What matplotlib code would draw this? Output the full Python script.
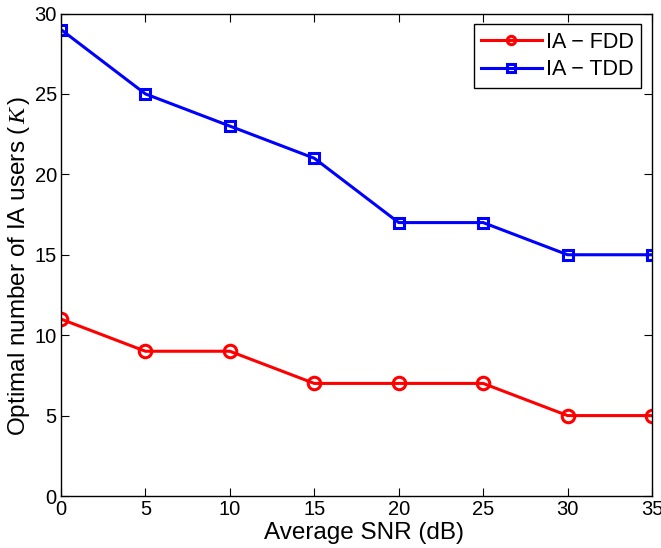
import numpy as np
import matplotlib.pyplot as plt

plt.rcParams['font.family'] = ['Liberation Sans', 'DejaVu Sans']
plt.rcParams['mathtext.fontset'] = 'custom'
plt.rcParams['mathtext.it'] = 'Liberation Serif:italic'

snr = [0, 5, 10, 15, 20, 25, 30, 35]
k_fdd = [11, 9, 9, 7, 7, 7, 5, 5]
k_tdd = [29, 25, 23, 21, 17, 17, 15, 15]

fig = plt.figure(figsize=(6.61, 5.48), dpi=100)
ax = fig.add_axes([61 / 661, 52 / 548, 591 / 661, 482.5 / 548])

ax.plot(snr, k_fdd, '-o', color='red', lw=2.2, ms=9, mfc='none', mew=2.2, label='IA \u2212 FDD')
ax.plot(snr, k_tdd, '-s', color='blue', lw=2.2, ms=7, mfc='none', mew=2.2, label='IA \u2212 TDD')

ax.set_xlim(0, 35)
ax.set_ylim(0, 30)
ax.set_xticks(np.arange(0, 36, 5))
ax.set_yticks(np.arange(0, 31, 5))
ax.tick_params(direction='in', top=True, right=True, labelsize=14.5, length=6, width=0.8, pad=3)
for s in ax.spines.values():
    s.set_linewidth(1.0)

ax.set_xlabel('Average SNR (dB)', fontsize=17.5, labelpad=2)
ax.set_ylabel('Optimal number of IA users ($\\,K\\,$)', fontsize=17.5, labelpad=2)
ax.xaxis.label.set_x(0.513)
ax.yaxis.label.set_y(0.477)

leg = ax.legend(loc='upper right', fontsize=15.5, fancybox=False, framealpha=1,
                edgecolor='black', borderpad=0.35, handlelength=2.8, labelspacing=0.3,
                handletextpad=0.2, borderaxespad=0.5)
leg.get_frame().set_linewidth(1.0)
for h in leg.legend_handles:
    h.set_markersize(6)

fig.savefig('out.png', dpi=100)
